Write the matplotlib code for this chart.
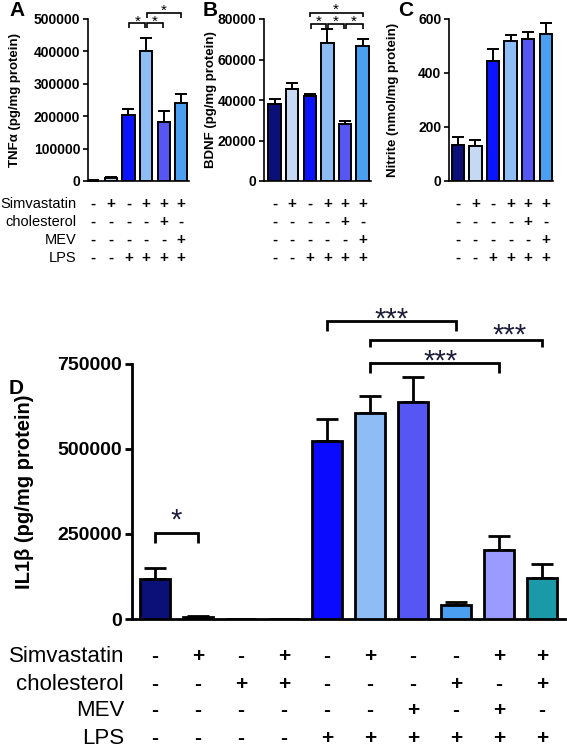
import matplotlib
matplotlib.use("Agg")
import matplotlib.pyplot as plt
from matplotlib.transforms import blended_transform_factory

plt.rcParams['font.family'] = ['Liberation Sans', 'DejaVu Sans']

W, H = 567, 747

# ---------------- data ----------------
row_labels = ["Simvastatin", "cholesterol", "MEV", "LPS"]

top_signs = [
    ["-", "+", "-", "+", "+", "+"],
    ["-", "-", "-", "-", "+", "-"],
    ["-", "-", "-", "-", "-", "+"],
    ["-", "-", "+", "+", "+", "+"],
]

tnf_vals = [1500, 8000, 203000, 400000, 182000, 242000]
tnf_err = [1000, 4000, 20000, 40000, 35000, 27000]

bdnf_vals = [38000, 45500, 42000, 68000, 28000, 66500]
bdnf_err = [2500, 3000, 1000, 7000, 1500, 3500]

nitrite_vals = [133, 130, 445, 518, 527, 543]
nitrite_err = [30, 22, 45, 22, 25, 42]

d_signs = [
    ["-", "+", "-", "+", "-", "+", "-", "-", "+", "+"],
    ["-", "-", "+", "+", "-", "-", "-", "+", "-", "+"],
    ["-", "-", "-", "-", "-", "-", "+", "-", "+", "-"],
    ["-", "-", "-", "-", "+", "+", "+", "+", "+", "+"],
]
il1b_vals = [117000, 5000, 1000, 1000, 523000, 606000, 638000, 41000, 203000, 120000]
il1b_err = [33000, 3000, 0, 0, 65000, 50000, 74000, 9000, 41000, 42000]

top_colors = ['#0a1078', '#c6d9f4', '#0a14ff', '#8ebcf4', '#5656f5', '#4a9ff0']
d_colors = ['#0a1078', '#303030', '#ffffff', '#ffffff', '#0a0aff', '#8ebcf4',
            '#5656f5', '#4a9ff0', '#9a9aff', '#1a99a8']

fig = plt.figure(figsize=(W / 100, H / 100), dpi=100)


def add_axes_px(left, top, right, bottom):
    return fig.add_axes([left / W, 1 - bottom / H, (right - left) / W, (bottom - top) / H])


def fy(ypx):
    return 1 - ypx / H


def bracket(ax, x1, x2, y, ydrop, lw, color='black'):
    ax.plot([x1, x1, x2, x2], [y - ydrop, y, y, y - ydrop], color=color, lw=lw,
            clip_on=False, solid_capstyle='butt', solid_joinstyle='miter')


def star(ax, x, ypx_center, text, fs, color='black'):
    # place asterisk(s) so the glyph centre lands at the given pixel row
    base_px = ypx_center + 0.57 * fs * 100 / 72
    tr = blended_transform_factory(ax.transData, fig.transFigure)
    ax.text(x, fy(base_px), text, transform=tr, ha='center', va='baseline',
            fontsize=fs, color=color, clip_on=False)


def style_axes(ax, lw, ticklen, fs):
    for s in ['top', 'right']:
        ax.spines[s].set_visible(False)
    ax.spines['left'].set_linewidth(lw)
    ax.spines['bottom'].set_linewidth(lw)
    ax.tick_params(axis='y', length=ticklen, width=lw, labelsize=fs, pad=2)
    ax.tick_params(axis='x', length=0, labelbottom=False)
    for lab in ax.get_yticklabels():
        lab.set_fontweight('bold')


def top_panel(left, xlim, vals, errs, ymax, yticks, ylabel, ylab_x, letter, letter_x):
    ax = add_axes_px(left, 19, left + (xlim[1] - xlim[0]) * 17.6, 181)
    x = list(range(len(vals)))
    ax.bar(x, vals, width=0.7, color=top_colors, edgecolor='black', linewidth=1.4, zorder=3)
    ax.errorbar(x, vals, yerr=[[0] * len(errs), errs], fmt='none', ecolor='black',
                elinewidth=1.4, capsize=4.5, capthick=1.4, zorder=2)
    ax.set_xlim(*xlim)
    ax.set_ylim(0, ymax)
    ax.set_yticks(yticks)
    style_axes(ax, 1.2, 3.5, 10)
    fig.text(ylab_x / W, fy(100), ylabel, rotation=90, ha='center', va='center',
             fontsize=9.5, fontweight='bold')
    fig.text(letter_x / W, fy(11), letter, ha='left', va='center', fontsize=15, fontweight='bold')
    return ax


def sign_rows(ax, signs, rows_y, fs):
    tr = blended_transform_factory(ax.transData, fig.transFigure)
    for r, row in enumerate(signs):
        for i, s in enumerate(row):
            ax.text(i, fy(rows_y[r]), s, transform=tr, ha='center', va='center',
                    fontsize=fs, fontweight='bold')


top_rows_y = [204, 222, 240, 258]

# Panel A
axA = top_panel(88, (-0.3, 5.45), tnf_vals, tnf_err, 500000,
                [0, 100000, 200000, 300000, 400000, 500000],
                "TNF\u03b1 (pg/mg protein)", 15, "A", 9)
bracket(axA, 2.05, 2.95, 487000, 16000, 1.2)
bracket(axA, 3.05, 3.95, 487000, 16000, 1.2)
bracket(axA, 3.05, 5.0, 518000, 14000, 1.2)
star(axA, 2.5, 17, "*", 11)
star(axA, 3.5, 17, "*", 11)
star(axA, 4.0, 6, "*", 11)
sign_rows(axA, top_signs, top_rows_y, 11)
for r, lab in enumerate(row_labels):
    fig.text(76 / W, fy(top_rows_y[r]), lab, ha='right', va='center', fontsize=10.5)

# Panel B
axB = top_panel(264, (-0.6, 5.5), bdnf_vals, bdnf_err, 80000,
                [0, 20000, 40000, 60000, 80000],
                "BDNF (pg/mg protein)", 211, "B", 203)
bracket(axB, 2.05, 2.95, 77500, 2400, 1.2)
bracket(axB, 3.05, 3.95, 77500, 2400, 1.2)
bracket(axB, 4.05, 5.0, 77500, 2400, 1.2)
bracket(axB, 2.0, 5.0, 83200, 2000, 1.2)
star(axB, 2.5, 17, "*", 11)
star(axB, 3.5, 17, "*", 11)
star(axB, 4.5, 17, "*", 11)
star(axB, 3.5, 5, "*", 11)
sign_rows(axB, top_signs, top_rows_y, 11)

# Panel C
axC = top_panel(449, (-0.5, 5.4), nitrite_vals, nitrite_err, 600,
                [0, 200, 400, 600],
                "Nitrite (nmol/mg protein)", 393, "C", 398)
sign_rows(axC, top_signs, top_rows_y, 11)

# Panel D
d_left, d_right = 132, 565
spacing = 43
xlimD = (-0.535, -0.535 + (d_right - d_left) / spacing)
axD = add_axes_px(d_left, 364, d_right, 619)
xd = list(range(len(il1b_vals)))
axD.bar(xd, il1b_vals, width=0.7, color=d_colors, edgecolor='black', linewidth=2, zorder=3)
axD.errorbar(xd, il1b_vals, yerr=[[0] * len(il1b_err), il1b_err], fmt='none', ecolor='black',
             elinewidth=2, capsize=8, capthick=2, zorder=2)
axD.set_xlim(*xlimD)
axD.set_ylim(0, 750000)
axD.set_yticks([0, 250000, 500000, 750000])
style_axes(axD, 2, 5, 14)
fig.text(25 / W, fy(492), "IL1\u03b2 (pg/mg protein)", rotation=90, ha='center', va='center',
         fontsize=14.5, fontweight='bold')
fig.text(9 / W, fy(388), "D", ha='left', va='center', fontsize=15, fontweight='bold')

star_c = '#1c1c3a'
bracket(axD, 0, 1, 253000, 30000, 2)
star(axD, 0.5, 512, "*", 21, star_c)
bracket(axD, 4, 7, 876000, 29000, 2)
star(axD, 5.5, 311, "***", 21, star_c)
bracket(axD, 5, 9, 820000, 21000, 2)
star(axD, 8.25, 327, "***", 21, star_c)
bracket(axD, 5, 8, 753000, 29000, 2)
star(axD, 6.65, 353, "***", 21, star_c)

d_rows_y = [657, 684, 711, 738]
sign_rows(axD, d_signs, d_rows_y, 15)
for r, lab in enumerate(row_labels):
    fig.text(124 / W, fy(d_rows_y[r]), lab, ha='right', va='center', fontsize=16)

fig.savefig("out.png", dpi=100)
